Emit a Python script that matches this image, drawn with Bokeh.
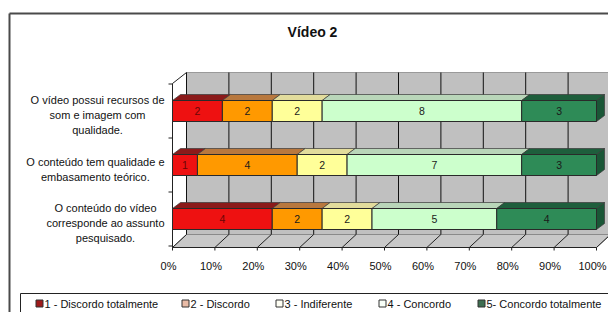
from bokeh.plotting import figure
from bokeh.models import Range1d, ColumnDataSource, Label
from bokeh.core.properties import value
from bokeh.embed import file_html
from bokeh.resources import INLINE

# ---------------- data ----------------
title_text = "Vídeo 2"
categories = [
    "O vídeo possui recursos de\nsom e imagem com\nqualidade.",
    "O conteúdo tem qualidade e\nembasamento teórico.",
    "O conteúdo do vídeo\ncorresponde ao assunto\npesquisado.",
]
series_names = ["1 - Discordo totalmente", "2 - Discordo", "3 - Indiferente",
                "4 - Concordo", "5- Concordo totalmente"]
s1 = [2, 1, 4]
s2 = [2, 4, 2]
s3 = [2, 2, 2]
s4 = [8, 7, 5]
s5 = [3, 3, 4]
tick_values = [0, 10, 20, 30, 40, 50, 60, 70, 80, 90, 100]
tick_labels = ["0%", "10%", "20%", "30%", "40%", "50%", "60%", "70%", "80%", "90%", "100%"]

front_colors = ["#EE1111", "#FF9900", "#FFFF99", "#CCFFCC", "#2E8B57"]
top_colors = ["#8B1A1A", "#B8783E", "#E2DC9C", "#B9D6B9", "#1E5E3C"]
side_color = "#1A5636"
legend_swatch = ["#9E1A1A", "#E9BBA6", "#FFFFF4", "#F8FFF8", "#3E6E50"]

# ---------------- geometry (pixel scale) ----------------
W, H = 608, 312
PX = 4.24          # px per percent
PY = 54.0          # px per row
X0PX = 172         # pixel of 0 %
Y0PX = 110.5       # pixel of row 0 centre

def X(px):
    return (px - X0PX) / PX

def Y(py):
    return (py - Y0PX) / PY

def dx(px):
    return px / PX

def dy(py):
    return py / PY

p = figure(width=W, height=H, x_range=Range1d(X(0), X(W)), y_range=Range1d(Y(H), Y(0)),
           output_backend="svg", toolbar_location=None, min_border=0,
           x_axis_type=None, y_axis_type=None)
p.grid.visible = False
p.outline_line_color = None
p.background_fill_color = "white"
p.border_fill_color = "white"

FONTNAME = "Liberation Sans"
FONT = value(FONTNAME)

# outer frame (left and top edges)
p.line([X(9), X(9)], [Y(H), Y(13)], line_color="#4a4a4a", line_width=2)
p.line([X(9), X(W)], [Y(13), Y(13)], line_color="#4a4a4a", line_width=2)

# title
p.add_layout(Label(x=312, y=H - 31, x_units="screen", y_units="screen", text=title_text,
                   text_font=FONTNAME, text_font_size="14px", text_font_style="bold",
                   text_align="center", text_baseline="middle", text_color="#111111"))

# ---------------- 3D walls ----------------
wdx, wdy = dx(14), dy(12)
wall_top, wall_bot, floor_front = Y(72), Y(234), Y(247)
p.quad(left=[wdx], right=[100 + wdx], top=[wall_top], bottom=[wall_bot],
       fill_color="#C0C0C0", line_color="#9a9a9a", line_width=1)
# floor
p.patch([0, 100, 100 + wdx, wdx], [floor_front, floor_front, wall_bot, wall_bot],
        fill_color="#C8C8C8", line_color="#8a8a8a", line_width=1)
# wall gridlines
p.segment(x0=[t + wdx for t in tick_values], y0=[wall_top] * len(tick_values),
          x1=[t + wdx for t in tick_values], y1=[wall_bot] * len(tick_values),
          line_color="#111111", line_width=1)
# floor slanted lines
p.segment(x0=tick_values, y0=[floor_front] * len(tick_values),
          x1=[t + wdx for t in tick_values], y1=[wall_bot] * len(tick_values),
          line_color="#222222", line_width=1)
# floor front edge and ticks
p.line([0, 100], [floor_front, floor_front], line_color="#222222", line_width=1)
p.segment(x0=tick_values, y0=[floor_front] * len(tick_values),
          x1=tick_values, y1=[floor_front + dy(3)] * len(tick_values),
          line_color="#222222", line_width=1)
# left axis
p.line([0, 0], [wall_top + dy(11), floor_front], line_color="#222222", line_width=1)
p.line([0, wdx], [wall_top + dy(11), wall_top], line_color="#222222", line_width=1)
nrows = len(categories)
sep = [i + 0.5 for i in range(-1, nrows)]
p.segment(x0=[0] * len(sep), y0=sep, x1=[-dx(4)] * len(sep), y1=sep,
          line_color="#222222", line_width=1)

# tick labels (slightly left of the tick, as in the source)
p.text(x=[t - dx(4) for t in tick_values], y=[Y(265)] * len(tick_values), text=tick_labels,
       text_font=FONT, text_font_size="11px", text_align="center",
       text_baseline="middle", text_color="#111111")

# ---------------- bars ----------------
series = [s1, s2, s3, s4, s5]
totals = [sum(s[i] for s in series) for i in range(nrows)]
bh = dy(21)
bdx, bdy = dx(8), dy(6)

for i in range(nrows):
    cum = 0.0
    for k, s in enumerate(series):
        v = s[i]
        l = cum / totals[i] * 100
        cum += v
        r = cum / totals[i] * 100
        top_y = i - bh / 2
        bot_y = i + bh / 2
        # top face
        p.patch([l, r, r + bdx, l + bdx], [top_y, top_y, top_y - bdy, top_y - bdy],
                fill_color=top_colors[k], line_color="#3a3a3a", line_width=0.7)
        if k == len(series) - 1:
            p.patch([r, r + bdx, r + bdx, r], [top_y, top_y - bdy, bot_y - bdy, bot_y],
                    fill_color=side_color, line_color="#3a3a3a", line_width=0.7)

src_rows = []
for i in range(nrows):
    cum = 0.0
    for k, s in enumerate(series):
        v = s[i]
        l = cum / totals[i] * 100
        cum += v
        r = cum / totals[i] * 100
        src_rows.append((l, r, i, k, v))

src = ColumnDataSource(dict(
    left=[a[0] for a in src_rows], right=[a[1] for a in src_rows],
    top=[a[2] - bh / 2 for a in src_rows], bottom=[a[2] + bh / 2 for a in src_rows],
    color=[front_colors[a[3]] for a in src_rows],
    cx=[(a[0] + a[1]) / 2 for a in src_rows], cy=[a[2] for a in src_rows],
    label=[str(a[4]) for a in src_rows],
    tcolor=["#6a0606" if a[3] == 0 else "#1a1a1a" for a in src_rows],
))
p.quad(left="left", right="right", top="top", bottom="bottom", source=src,
       fill_color="color", line_color="#2a2a2a", line_width=1)
p.text(x="cx", y="cy", text="label", source=src, text_font=FONT, text_font_size="10.5px",
       text_align="center", text_baseline="middle", text_color="tcolor")

# category labels
p.text(x=[X(164)] * nrows, y=[i + dy(4) for i in range(nrows)], text=categories,
       text_font=FONT, text_font_size="11px", text_align="center",
       anchor="center_right", text_line_height=1.25, text_color="#111111")

# ---------------- legend ----------------
leg_top = Y(293)
p.line([X(20), X(W)], [leg_top, leg_top], line_color="#222222", line_width=1)
p.line([X(20), X(20)], [leg_top, Y(H)], line_color="#222222", line_width=1)
sw_px = [39, 185, 279, 382, 481]
ly = Y(303)
p.rect(x=[X(v) for v in sw_px], y=[ly] * 5, width=dx(7), height=dy(7),
       fill_color=legend_swatch, line_color="#333333", line_width=1)
p.text(x=[X(v + 5) for v in sw_px], y=[ly] * 5, text=series_names,
       text_font=FONT, text_font_size="11px", text_align="left",
       text_baseline="middle", text_color="#111111")

open("out.html", "w").write(file_html(p, INLINE))
